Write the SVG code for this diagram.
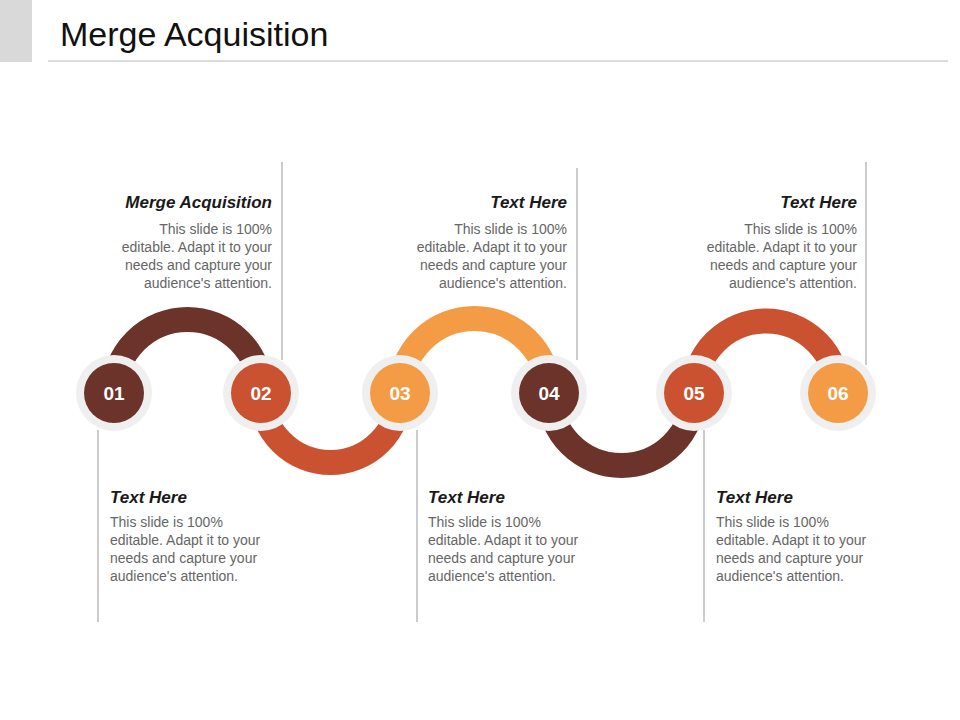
<svg xmlns="http://www.w3.org/2000/svg" width="960" height="720" viewBox="0 0 960 720">
<style>
.h{font-family:"Liberation Sans",Arial,sans-serif;font-size:17px;font-weight:bold;font-style:italic;fill:#1a1a1a}
.b{font-family:"Liberation Sans",Arial,sans-serif;font-size:14px;fill:#666}
.r{text-anchor:end}
.n{font-family:"Liberation Sans",Arial,sans-serif;font-size:19px;font-weight:bold;fill:#fff;text-anchor:middle}
.v{stroke:#999;stroke-width:1}
.a{fill:none;stroke-width:25}
.ring{fill:#efefef}
</style>
<rect width="960" height="720" fill="#fff"/>
<rect x="0" y="0" width="32" height="62" fill="#d9d9d9"/>
<line x1="48" y1="61" x2="948" y2="61" stroke="#d0d0d0" stroke-width="1.5"/>
<text x="60" y="46" font-family="Liberation Sans,Arial,sans-serif" font-size="34" fill="#111">Merge Acquisition</text>
<g id="connectors">
<path class="a" stroke="#6b3329" d="M114,393 A73.5,73.5 0 0 1 261,393"/>
<path class="a" stroke="#cb5230" d="M261,393 A69.5,69.5 0 0 0 400,393"/>
<path class="a" stroke="#f39c45" d="M400,393 A74.5,74.5 0 0 1 549,393"/>
<path class="a" stroke="#6b3329" d="M549,393 A72.5,72.5 0 0 0 694,393"/>
<path class="a" stroke="#cb5230" d="M694,393 A72,72 0 0 1 838,393"/>
<line class="v" x1="282" y1="162" x2="282" y2="360"/>
<line class="v" x1="577" y1="168" x2="577" y2="360"/>
<line class="v" x1="866" y1="162" x2="866" y2="365"/>
<line class="v" x1="98" y1="430" x2="98" y2="622"/>
<line class="v" x1="417" y1="430" x2="417" y2="622"/>
<line class="v" x1="704" y1="430" x2="704" y2="622"/>
</g>
<g id="n01"><circle class="ring" cx="114" cy="393" r="38"/><circle cx="114" cy="393" r="30" fill="#6b3329"/><text class="n" x="114" y="400">01</text></g>
<g id="n02"><circle class="ring" cx="261" cy="393" r="38"/><circle cx="261" cy="393" r="30" fill="#cb5230"/><text class="n" x="261" y="400">02</text></g>
<g id="n03"><circle class="ring" cx="400" cy="393" r="38"/><circle cx="400" cy="393" r="30" fill="#f39c45"/><text class="n" x="400" y="400">03</text></g>
<g id="n04"><circle class="ring" cx="549" cy="393" r="38"/><circle cx="549" cy="393" r="30" fill="#6b3329"/><text class="n" x="549" y="400">04</text></g>
<g id="n05"><circle class="ring" cx="694" cy="393" r="38"/><circle cx="694" cy="393" r="30" fill="#cb5230"/><text class="n" x="694" y="400">05</text></g>
<g id="n06"><circle class="ring" cx="838" cy="393" r="38"/><circle cx="838" cy="393" r="30" fill="#f39c45"/><text class="n" x="838" y="400">06</text></g>
<g id="t1"><text class="h r" x="272" y="208">Merge Acquisition</text>
<text class="b r" x="272" y="234">This slide is 100%</text><text class="b r" x="272" y="252">editable. Adapt it to your</text><text class="b r" x="272" y="270">needs and capture your</text><text class="b r" x="272" y="288">audience's attention.</text></g>
<g id="t3"><text class="h r" x="567" y="208">Text Here</text>
<text class="b r" x="567" y="234">This slide is 100%</text><text class="b r" x="567" y="252">editable. Adapt it to your</text><text class="b r" x="567" y="270">needs and capture your</text><text class="b r" x="567" y="288">audience's attention.</text></g>
<g id="t5"><text class="h r" x="857" y="208">Text Here</text>
<text class="b r" x="857" y="234">This slide is 100%</text><text class="b r" x="857" y="252">editable. Adapt it to your</text><text class="b r" x="857" y="270">needs and capture your</text><text class="b r" x="857" y="288">audience's attention.</text></g>
<g id="t2"><text class="h" x="110" y="503">Text Here</text>
<text class="b" x="110" y="527">This slide is 100%</text><text class="b" x="110" y="545">editable. Adapt it to your</text><text class="b" x="110" y="563">needs and capture your</text><text class="b" x="110" y="581">audience's attention.</text></g>
<g id="t4"><text class="h" x="428" y="503">Text Here</text>
<text class="b" x="428" y="527">This slide is 100%</text><text class="b" x="428" y="545">editable. Adapt it to your</text><text class="b" x="428" y="563">needs and capture your</text><text class="b" x="428" y="581">audience's attention.</text></g>
<g id="t6"><text class="h" x="716" y="503">Text Here</text>
<text class="b" x="716" y="527">This slide is 100%</text><text class="b" x="716" y="545">editable. Adapt it to your</text><text class="b" x="716" y="563">needs and capture your</text><text class="b" x="716" y="581">audience's attention.</text></g>
</svg>
